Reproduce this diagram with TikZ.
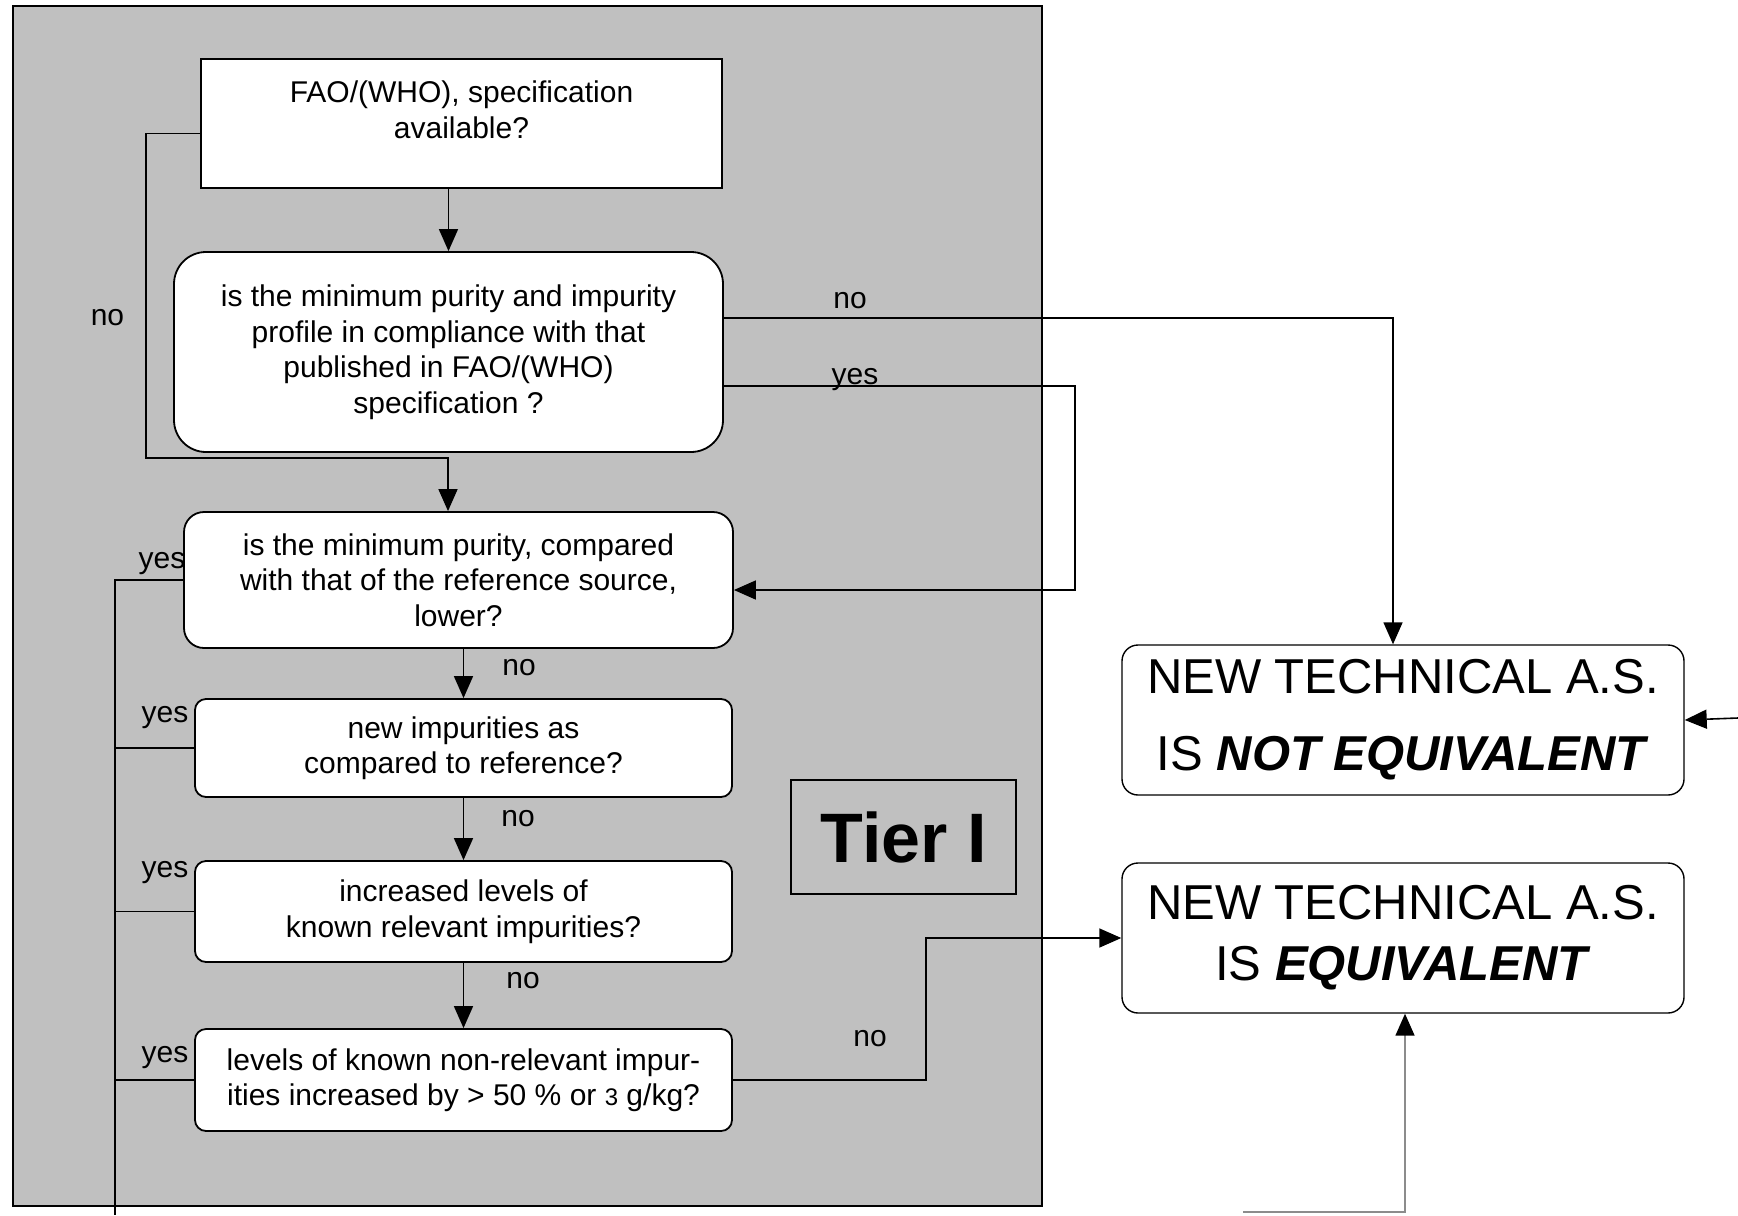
\documentclass[tikz,border=0pt]{standalone}
\usepackage{fontspec}
\setmainfont{Liberation Sans}
\usetikzlibrary{arrows.meta}
\definecolor{panelgray}{HTML}{C0C0C0}
\definecolor{feedgray}{HTML}{8C8C8C}

\begin{document}
\begin{tikzpicture}[x=0.5pt,y=-0.5pt,
  font=\fontsize{15}{17.75}\selectfont,
  box/.style={draw,fill=white,line width=0.9pt,align=center,inner sep=2pt},
  sqbox/.style={box,rounded corners=0pt},
  qbox/.style={box,rounded corners=5.5pt,minimum width=268.5pt},
  verdict/.style={box,rounded corners=8pt,minimum width=281pt,minimum height=75pt,line width=0.7pt},
  lbl/.style={inner sep=0pt},
  ar/.style={-{Triangle[length=11pt,width=9.5pt,color=black]},line width=0.8pt}]

\useasboundingbox (0,0) rectangle (1738,1215);

% Tier I panel
\draw[fill=panelgray,line width=1.2pt] (13,6) rectangle (1042,1206);

% question chain
\node[sqbox,minimum width=260.5pt,minimum height=64.5pt] (spec) at (461.5,123.5)
  {FAO/(WHO), specification\\available?\\[-4pt]\mbox{}};
\node[box,rounded corners=16pt,minimum width=274.5pt,minimum height=100pt] (comp) at (448.5,352)
  {is the minimum purity and impurity\\profile in compliance with that\\published in FAO/(WHO)\\specification ?};
\node[box,rounded corners=10pt,minimum width=274.5pt,minimum height=68pt] (purity) at (458.5,580)
  {is the minimum purity, compared\\with that of the reference source,\\lower?};
\node[qbox,minimum height=49pt] (newimp) at (463.5,748)
  {new impurities as\\compared to reference?};
\node[qbox,minimum height=50.5pt] (relimp) at (463.5,911.5)
  {increased levels of\\known relevant impurities?};
\node[qbox,minimum height=51pt] (nonrel) at (463.5,1080)
  {levels of known non-relevant impur-\\ities increased by > 50 \% or {\fontsize{12}{14}\selectfont 3} g/kg?};

\node[draw,line width=0.8pt,minimum width=112.5pt,minimum height=57pt,
  font=\fontsize{35}{40}\selectfont\bfseries] (tier) at (903.5,837) {Tier I};

% verdicts
\node[verdict,font=\fontsize{24.5}{38.5}\selectfont] (noteq) at (1403,720)
  {NEW TECHNICAL A.S.\\IS \textbf{\textit{NOT EQUIVALENT}}};
\node[verdict,font=\fontsize{24.5}{30.5}\selectfont] (equiv) at (1403,938)
  {NEW TECHNICAL A.S.\\IS \textbf{\textit{EQUIVALENT}}};

% free ends
\coordinate (nojoin) at (448,458);
\coordinate (yesbus) at (115,1215);
\coordinate (fromright) at (1738,718);
\coordinate (frombelow) at (1243,1212);

% connectors
\draw[ar] (spec.south -| comp.north) -- (comp.north);
\draw[ar] ([yshift=-5pt]spec.west) -- ++(-54,0) |- (nojoin) -- (nojoin |- purity.north);
\draw[ar] ([yshift=17pt]comp.east) -| ([xshift=-5pt]noteq.north);
\draw[ar] ([yshift=-17pt]comp.east) -- ++(351,0) |- ([yshift=-5pt]purity.east);
\draw[ar] (purity.south -| newimp.north) -- (newimp.north);
\draw[ar] (newimp.south) -- (relimp.north);
\draw[ar] (relimp.south) -- (nonrel.north);
\draw[ar] (nonrel.east) -- ++(193,0) |- (equiv.west);
\draw[line width=0.8pt] (purity.west) -| (yesbus);
\foreach \n in {newimp,relimp,nonrel}
  \draw[line width=0.8pt] (\n.west) -- (\n.west -| yesbus);
\draw[ar] (fromright) -- (noteq.east);
\draw[ar,draw=feedgray] (frombelow) -| ([xshift=1pt]equiv.south);

% labels
\node[lbl] (nospec) at (107.5,318) {no};
\node[lbl] (nocomp) at (850,301) {no};
\node[lbl] (yescomp) at (855,380) {yes};
\node[lbl] (nopur) at (519,668) {no};
\node[lbl] (nonew) at (518,819) {no};
\node[lbl] (norel) at (523,981) {no};
\node[lbl] (nonon) at (870,1039) {no};
\node[lbl] (yespur) at (162,564) {yes};
\node[lbl] (yesnew) at (165,718) {yes};
\node[lbl] (yesrel) at (165,873) {yes};
\node[lbl] (yesnon) at (165,1058) {yes};
\end{tikzpicture}
\end{document}
